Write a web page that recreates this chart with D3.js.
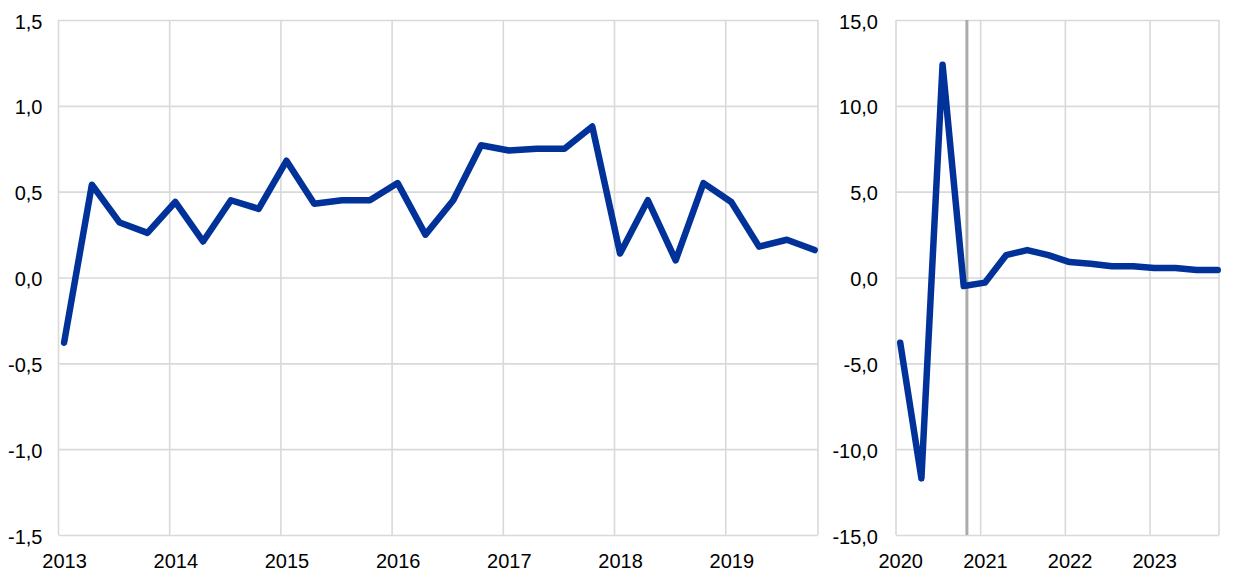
<!DOCTYPE html>
<html>
<head>
<meta charset="utf-8">
<script src="https://cdn.jsdelivr.net/npm/d3@7"></script>
<style>
  html, body { margin: 0; padding: 0; background: #ffffff; }
  svg { display: block; }
  text { font-family: "Liberation Sans", Arial, sans-serif; fill: #000000; }
</style>
</head>
<body>
<svg id="chart" width="1240" height="579"></svg>
<script>
// ---------- DATA ----------
const leftQuarters = [
  "2013Q1","2013Q2","2013Q3","2013Q4",
  "2014Q1","2014Q2","2014Q3","2014Q4",
  "2015Q1","2015Q2","2015Q3","2015Q4",
  "2016Q1","2016Q2","2016Q3","2016Q4",
  "2017Q1","2017Q2","2017Q3","2017Q4",
  "2018Q1","2018Q2","2018Q3","2018Q4",
  "2019Q1","2019Q2","2019Q3","2019Q4"
];
const leftValues = [
  -0.38, 0.54, 0.32, 0.26,
   0.44, 0.21, 0.45, 0.40,
   0.68, 0.43, 0.45, 0.45,
   0.55, 0.25, 0.45, 0.77,
   0.74, 0.75, 0.75, 0.88,
   0.14, 0.45, 0.10, 0.55,
   0.44, 0.18, 0.22, 0.16
];
const rightQuarters = [
  "2020Q1","2020Q2","2020Q3","2020Q4",
  "2021Q1","2021Q2","2021Q3","2021Q4",
  "2022Q1","2022Q2","2022Q3","2022Q4",
  "2023Q1","2023Q2","2023Q3","2023Q4"
];
const rightValues = [
  -3.8, -11.7, 12.4, -0.5,
  -0.3,  1.3,  1.6,  1.3,
   0.9,  0.8,  0.65, 0.65,
   0.55, 0.55, 0.44, 0.44
];
const leftYearLabels  = ["2013","2014","2015","2016","2017","2018","2019"];
const rightYearLabels = ["2020","2021","2022","2023"];
const leftYTicks  = [-1.5, -1.0, -0.5, 0.0, 0.5, 1.0, 1.5];
const rightYTicks = [-15, -10, -5, 0, 5, 10, 15];
const projectionAfter = "2020Q4"; // grey vertical marker just after this quarter

// ---------- STYLE / LAYOUT ----------
const lineColor = "#003299";
const gridColor = "#d9d9d9";
const markerColor = "#ababab";
const fontSize = 20;
const plotTop = 20, plotBottom = 535;
const fmt = d3.formatLocale({decimal: ",", thousands: ".", grouping: [3], currency: ["", "€"], minus: "-"}).format(".1f");

const svg = d3.select("#chart");

function panel(cfg) {
  const x = d3.scaleLinear().domain([-0.2, cfg.xMax]).range([cfg.left, cfg.right]);
  const y = d3.scaleLinear().domain([cfg.yTicks[0], cfg.yTicks[cfg.yTicks.length - 1]]).range([plotBottom, plotTop]);
  const g = svg.append("g");

  // horizontal grid + y labels
  const yAxis = d3.axisLeft(y).tickValues(cfg.yTicks).tickSize(-(cfg.right - cfg.left)).tickPadding(16).tickFormat(fmt);
  const ya = g.append("g").attr("transform", `translate(${cfg.left},0)`).call(yAxis);
  ya.select(".domain").remove();
  ya.selectAll(".tick line").attr("stroke", gridColor).attr("stroke-width", 1.6);
  ya.selectAll(".tick text").attr("font-size", fontSize).attr("font-family", "Liberation Sans, Arial, sans-serif").attr("dx", cfg.labelDx).attr("dy", "0.4em");

  // vertical grid lines at year starts (year boundaries)
  const yearIdx = cfg.yearLabels.map((d, i) => i * 4);
  g.selectAll(".vgrid").data(yearIdx).enter().append("line")
    .attr("x1", d => x(d - 0.2)).attr("x2", d => x(d - 0.2))
    .attr("y1", plotTop).attr("y2", plotBottom)
    .attr("stroke", gridColor).attr("stroke-width", 1.6);
  // right border
  g.append("line").attr("x1", cfg.right).attr("x2", cfg.right).attr("y1", plotTop).attr("y2", plotBottom)
    .attr("stroke", gridColor).attr("stroke-width", 1.6);

  // x labels
  const xAxis = d3.axisBottom(x).tickValues(yearIdx).tickSize(0).tickPadding(19)
    .tickFormat((d, i) => cfg.yearLabels[i]);
  const xa = g.append("g").attr("transform", `translate(0,${plotBottom})`).call(xAxis);
  xa.select(".domain").remove();
  xa.selectAll(".tick text").attr("font-size", fontSize).attr("font-family", "Liberation Sans, Arial, sans-serif");

  if (cfg.marker != null) {
    const mi = cfg.quarters.indexOf(cfg.marker) + 0.15;
    g.append("line").attr("x1", x(mi)).attr("x2", x(mi)).attr("y1", plotTop).attr("y2", plotBottom)
      .attr("stroke", markerColor).attr("stroke-width", 3);
  }

  const line = d3.line().x((d, i) => x(i)).y(d => y(d));
  g.append("path").datum(cfg.values).attr("d", line)
    .attr("fill", "none").attr("stroke", lineColor).attr("stroke-width", 6.5)
    .attr("stroke-linejoin", "round").attr("stroke-linecap", "round");
}

panel({quarters: leftQuarters, values: leftValues, yearLabels: leftYearLabels, yTicks: leftYTicks,
       left: 58.5, right: 818, xMax: 27.12, labelDx: 0, marker: null});
panel({quarters: rightQuarters, values: rightValues, yearLabels: rightYearLabels, yTicks: rightYTicks,
       left: 896, right: 1219, xMax: 15.06, labelDx: -2, marker: projectionAfter});
</script>
</body>
</html>
